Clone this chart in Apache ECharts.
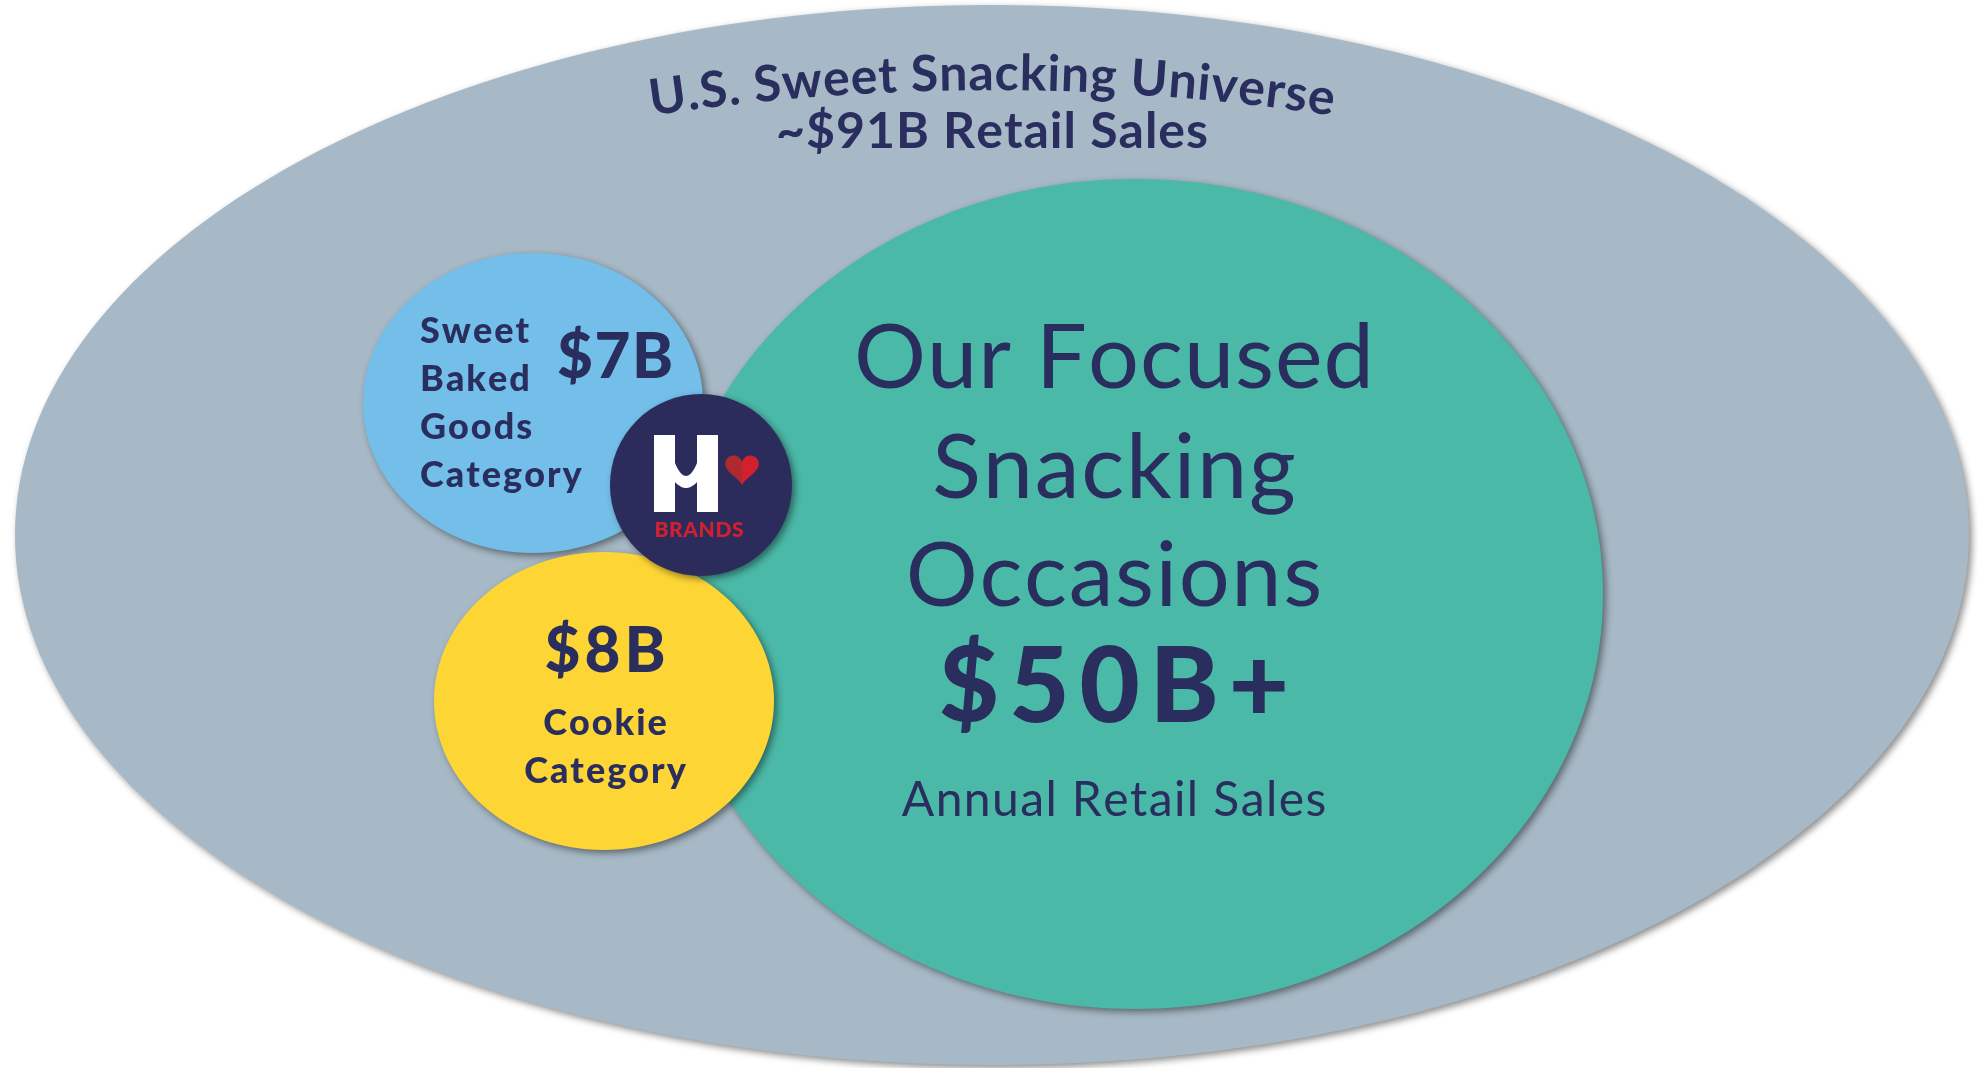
<!DOCTYPE html>
<html><head><meta charset="utf-8">
<script src="https://cdn.jsdelivr.net/npm/echarts@6/dist/echarts.min.js"></script>
<style>html,body{margin:0;padding:0;background:#fff}#c{width:1978px;height:1068px}</style>
</head><body><div id="c"></div>
<script>
// ---- data ----
const segmentNames = ["U.S. Sweet Snacking Universe", "Our Focused Snacking Occasions", "Sweet Baked Goods Category", "Cookie Category"];
const segmentValues = [91, 50, 7, 8]; // $ billions, retail sales
const valueLabels = ["~$91B Retail Sales", "$50B+", "$7B", "$8B"];
const subLabels = ["", "Annual Retail Sales", "", ""];
const brandWord = "BRANDS";

// ---- layout / style (pixel units of a 1978 x 1068 canvas) ----
const W = 1978, H = 1068;
const NAVY = '#2a2e5e';
const FONT = 'Lato';
const shapes = [
  {cx: 992, cy: 535, rx: 977, ry: 530, color: '#a7b9c6'},
  {cx: 1135, cy: 594, rx: 468, ry: 415, color: '#4bb9a8'},
  {cx: 533, cy: 403, rx: 170, ry: 150, color: '#73bfe9'},
  {cx: 604, cy: 701, rx: 170, ry: 149, color: '#fdd636'}
];
const logo = {cx: 701, cy: 485, r: 91, color: '#2b2c5b'};

const measureCtx = document.createElement('canvas').getContext('2d');

// text drawn glyph by glyph with extra letter spacing
function txt(text, x, baseline, size, weight, align, spacing, color) {
  const font = weight + ' ' + size + 'px ' + FONT;
  measureCtx.font = font;
  spacing = spacing || 0;
  const chars = Array.from(text);
  const widths = chars.map(ch => measureCtx.measureText(ch).width);
  const total = widths.reduce((a, b) => a + b, 0) + spacing * (chars.length - 1);
  let left = align === 'left' ? x : x - total / 2;
  const els = [];
  chars.forEach((ch, k) => {
    els.push({type: 'text', style: {text: ch, x: left, y: baseline - 0.32 * size, fill: color || NAVY,
      font: font, textAlign: 'left', textVerticalAlign: 'middle'}});
    left += widths[k] + spacing;
  });
  return els;
}

function arcText(text, centerX, topBaseline, R, size, spacing) {
  const font = 'bold ' + size + 'px ' + FONT;
  measureCtx.font = font;
  const chars = Array.from(text);
  const widths = chars.map(ch => measureCtx.measureText(ch).width);
  const total = widths.reduce((a, b) => a + b, 0) + spacing * (chars.length - 1);
  const els = [];
  let acc = -total / 2;
  const ocy = topBaseline + R;
  chars.forEach((ch, k) => {
    const w = widths[k];
    const th = (acc + w / 2) / R;
    els.push({type: 'text', x: centerX + R * Math.sin(th), y: ocy - R * Math.cos(th), rotation: -th,
      style: {text: ch, x: 0, y: -0.32 * size, fill: NAVY, font: font, textAlign: 'center', textVerticalAlign: 'middle'}});
    acc += w + spacing;
  });
  return els;
}

function heartPts(cx, cy, s, half) {
  const pts = [];
  const n = 60;
  for (let i = 0; i <= n; i++) {
    const t = half === 'left' ? Math.PI + Math.PI * i / n : Math.PI * i / n;
    const x = 16 * Math.pow(Math.sin(t), 3);
    const y = 13 * Math.cos(t) - 5 * Math.cos(2 * t) - 2 * Math.cos(3 * t) - Math.cos(4 * t);
    pts.push([cx + x * s, cy - y * s]);
  }
  return pts;
}
function hPts() {
  const pts = [[654, 435], [675, 435], [675, 463]];
  for (let i = 1; i < 20; i++) { const t = i / 20; pts.push([675 + 22 * t, 463 + 4 * 13 * t * (1 - t)]); }
  pts.push([697, 463], [697, 435], [718, 435], [718, 512], [697, 512], [697, 482]);
  for (let i = 1; i < 20; i++) { const t = i / 20; pts.push([697 - 22 * t, 482 + 4 * 6 * t * (1 - t)]); }
  pts.push([675, 482], [675, 512], [654, 512]);
  return pts;
}

const shadow = {shadowBlur: 7, shadowColor: 'rgba(0,0,0,0.45)', shadowOffsetX: 3, shadowOffsetY: 3};

function renderItem(params, api) {
  const i = api.value(0);
  const children = [];
  if (i < 4) {
    const s = shapes[i];
    const c = api.coord([s.cx, s.cy]);
    const sz = api.size([s.rx, s.ry]);
    children.push({type: 'ellipse', shape: {cx: c[0], cy: c[1], rx: Math.abs(sz[0]), ry: Math.abs(sz[1])},
      style: Object.assign({fill: s.color}, shadow)});
  }
  if (i === 0) {
    children.push(...arcText(segmentNames[0], 992, 90, 2300, 50, 0.8));
    children.push(...txt(valueLabels[0], 992, 148, 50, 'bold', 'center', 1));
  } else if (i === 1) {
    const x = 1114;
    children.push(...txt('Our Focused', x, 388, 90, 'normal', 'center', 1.0));
    children.push(...txt('Snacking', x, 498, 90, 'normal', 'center', 1.8));
    children.push(...txt('Occasions', x, 606, 90, 'normal', 'center', 1.6));
    children.push(...txt(valueLabels[1], x, 722, 104, '900', 'center', 10));
    children.push(...txt(subLabels[1], x, 816, 48, 'normal', 'center', 1.4));
  } else if (i === 2) {
    const words = segmentNames[2].split(' ');
    words.forEach((w, k) => children.push(...txt(w, 420, 343 + 48 * k, 36, '900', 'left', 2)));
    children.push(...txt(valueLabels[2], 615, 378, 62, '900', 'center', 1.5));
  } else if (i === 3) {
    children.push(...txt(valueLabels[3], 605, 672, 62, '900', 'center', 4));
    const words = segmentNames[3].split(' ');
    words.forEach((w, k) => children.push(...txt(w, 605, 735 + 48 * k, 36, '900', 'center', 2)));
  } else if (i === 4) {
    const c = api.coord([logo.cx, logo.cy]);
    children.push({type: 'circle', shape: {cx: c[0], cy: c[1], r: logo.r}, style: Object.assign({fill: logo.color}, shadow)});
    children.push({type: 'polygon', shape: {points: hPts()}, style: {fill: '#ffffff'}});
    children.push({type: 'polygon', shape: {points: heartPts(742, 468, 1.05, 'right')}, style: {fill: '#d3202e'}});
    children.push({type: 'polygon', shape: {points: heartPts(742, 468, 1.05, 'left')}, style: {fill: '#ad2a2f'}});
    children.push(...txt(brandWord, 699, 537, 21, '900', 'center', 0.6, '#d3202e'));
  }
  return {type: 'group', children: children};
}

const chart = echarts.init(document.getElementById('c'));
chart.setOption({
  animation: false,
  backgroundColor: '#ffffff',
  grid: {left: 0, right: 0, top: 0, bottom: 0},
  xAxis: {type: 'value', min: 0, max: W, show: false},
  yAxis: {type: 'value', min: 0, max: H, inverse: true, show: false},
  series: [{
    type: 'custom',
    coordinateSystem: 'cartesian2d',
    renderItem: renderItem,
    data: [[0], [1], [2], [3], [4]],
    silent: true
  }]
});
</script>
</body></html>
